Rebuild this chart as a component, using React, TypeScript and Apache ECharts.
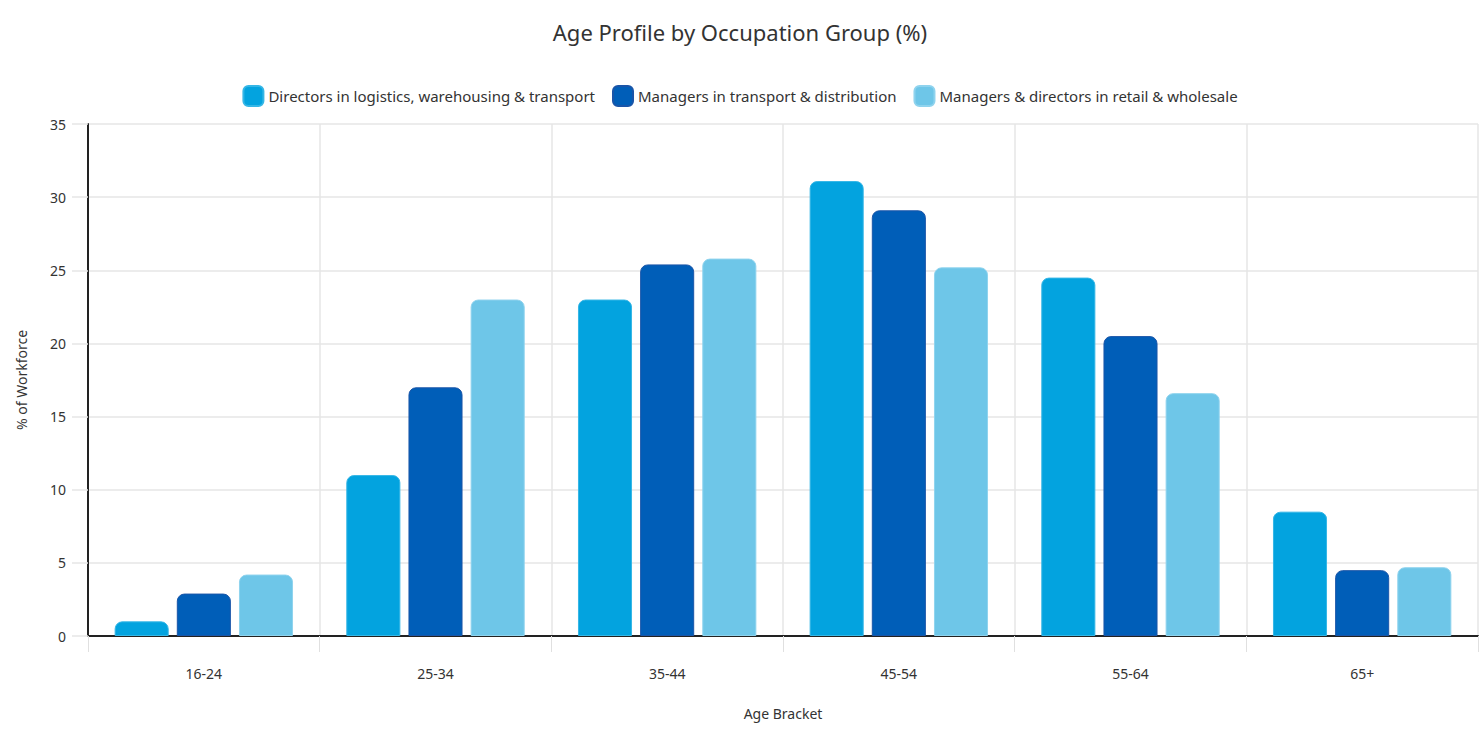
import React, { useEffect, useRef } from "react";
import * as echarts from "echarts";

const categories = ["16-24", "25-34", "35-44", "45-54", "55-64", "65+"];
const seriesNames = [
  "Directors in logistics, warehousing & transport",
  "Managers in transport & distribution",
  "Managers & directors in retail & wholesale",
];
const directorsLogistics = [1.0, 11.0, 23.0, 31.1, 24.5, 8.5];
const managersTransport = [2.9, 17.0, 25.4, 29.1, 20.5, 4.5];
const retailWholesale = [4.2, 23.0, 25.8, 25.2, 16.6, 4.7];
const colors = ["#03a3df", "#005eb8", "#6ec6e8"];
const borders = ["#35b6e6", "#1a55a8", "#8fd3ee"];

const FONT = "'Noto Sans', sans-serif";

export default function App() {
  const ref = useRef<HTMLDivElement>(null);
  useEffect(() => {
    if (!ref.current) return;
    const chart = echarts.init(ref.current, undefined, { renderer: "svg" });
    const data = [directorsLogistics, managersTransport, retailWholesale];
    chart.setOption({
      animation: false,
      textStyle: { fontFamily: FONT },
      title: {
        text: "Age Profile by Occupation Group (%)",
        left: "center",
        top: 16,
        textStyle: { fontFamily: FONT, fontSize: 22, fontWeight: "normal", color: "#333" },
      },
      legend: {
        top: 85 - 5,
        left: "center",
        itemWidth: 20,
        itemHeight: 20,
        itemGap: 17,
        icon: "roundRect",
        textStyle: { fontFamily: FONT, fontSize: 15, color: "#333" },
        data: seriesNames,
      },
      grid: { left: 88, right: 2, top: 124, bottom: 100, containLabel: false },
      xAxis: {
        type: "category",
        data: categories,
        name: "Age Bracket",
        nameLocation: "middle",
        nameGap: 70,
        nameTextStyle: { fontFamily: FONT, fontSize: 14, color: "#333" },
        axisLine: { lineStyle: { color: "#222", width: 2 } },
        axisTick: { show: true, length: 16, lineStyle: { color: "#e0e0e0" } },
        axisLabel: { fontFamily: FONT, fontSize: 14, color: "#333", margin: 30 },
        splitLine: { show: true, lineStyle: { color: "#e6e6e6", width: 1.5 } },
      },
      yAxis: {
        type: "value",
        min: 0,
        max: 35,
        interval: 5,
        name: "% of Workforce",
        nameLocation: "middle",
        nameGap: 60,
        nameTextStyle: { fontFamily: FONT, fontSize: 14, color: "#333" },
        axisLine: { show: true, lineStyle: { color: "#222", width: 2 } },
        axisTick: { show: true, length: 16, lineStyle: { color: "#e6e6e6", width: 1.5 } },
        axisLabel: { fontFamily: FONT, fontSize: 14, color: "#333", margin: 22 },
        splitLine: { show: true, lineStyle: { color: "#e6e6e6", width: 1.5 } },
      },
      series: seriesNames.map((name, i) => ({
        name,
        type: "bar",
        data: data[i],
        barGap: "15%",
        barCategoryGap: "23%",
        itemStyle: {
          color: colors[i],
          borderColor: borders[i],
          borderWidth: 1,
          borderRadius: [7, 7, 0, 0],
        },
      })),
    });
    return () => chart.dispose();
  }, []);
  return (
    <div
      ref={ref}
      style={{ position: "fixed", left: 0, top: 0, width: 1480, height: 736, background: "#fff" }}
    />
  );
}
